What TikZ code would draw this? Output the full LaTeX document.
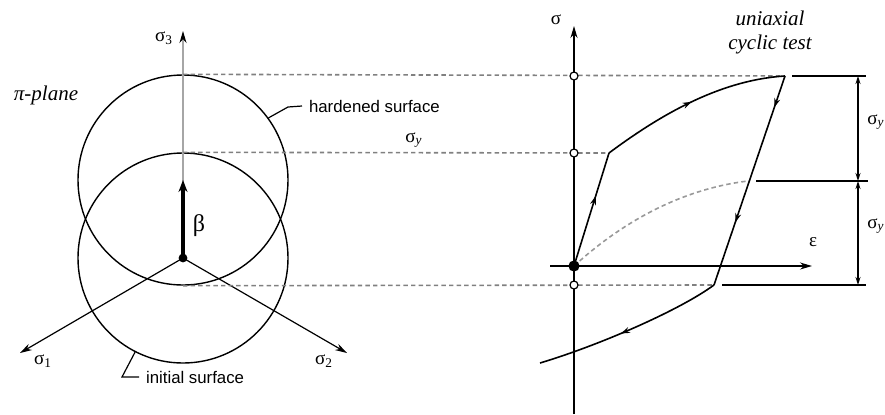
\documentclass[tikz,border=0pt]{standalone}
\usepackage{fontspec}
\setmainfont{Liberation Serif}
\newfontfamily\notefont{Liberation Sans}
\usetikzlibrary{arrows.meta,decorations.markings}

\tikzset{
  axis/.style={line width=0.6pt,-{Stealth[length=6pt,width=3.5pt]}},
  guide/.style={gray,line width=0.8pt,dash pattern=on 2.2pt off 1.6pt},
  curve/.style={line width=0.8pt},
  mid arrow/.style={postaction={decorate},decoration={markings,
      mark=at position #1 with {\arrow{Stealth[length=4.5pt,width=3pt]}}}},
  two arrows/.style 2 args={postaction={decorate},decoration={markings,
      mark=at position #1 with {\arrow{Stealth[length=4.5pt,width=3pt]}},
      mark=at position #2 with {\arrow{Stealth[length=4.5pt,width=3pt]}}}},
  surface/.style={circle,draw,line width=0.7pt,minimum size=105pt,inner sep=0pt},
  hole/.style={circle,draw,fill=white,line width=0.6pt,inner sep=0pt,minimum size=4pt},
  greek/.style={font=\fontsize{9.5}{10}\selectfont},
  note/.style={font=\notefont\fontsize{8.4}{10}\selectfont},
  title/.style={font=\itshape\fontsize{10.5}{12}\selectfont,align=center},
  dim/.style={line width=0.6pt,{Stealth[length=4pt,width=2.5pt]}-{Stealth[length=4pt,width=2.5pt]}}
}

\begin{document}
\begin{tikzpicture}[x=0.5pt,y=-0.5pt]
  \useasboundingbox (0,0) rectangle (885,414);

  % pi-plane
  \coordinate (O) at (183,258);
  \coordinate (H) at (183,180);
  \coordinate (s3) at (183,31);
  \coordinate (s1) at (20,353);
  \coordinate (s2) at (347,353);
  \node[surface] (init) at (O) {};
  \node[surface] (hard) at (H) {};
  \draw[axis,gray!70,-{Stealth[black,length=6pt,width=3.5pt]}] (O) -- (s3);
  \draw[axis] (O) -- (s1);
  \draw[axis] (O) -- (s2);
  \draw[line width=2pt,-{Stealth[length=6pt,width=4.5pt]}] (O) -- (H);
  \fill (O) circle[radius=2.2pt];

  \node[greek] (ls3) at (164,38) {σ\textsubscript{3}};
  \node[greek] (ls1) at (43,361) {σ\textsubscript{1}};
  \node[greek] (ls2) at (324,361) {σ\textsubscript{2}};
  \node[font=\fontsize{12}{14}\selectfont] (lbeta) at (199,226) {β};
  \node[title] (pplane) at (46,95) {π-plane};
  \node[greek] (lsy) at (414,140) {σ\textsubscript{\itshape y}};

  \node[note,anchor=west] (lhard) at (302,106) {hardened surface};
  \coordinate (kh) at (288,107);
  \draw[line width=0.6pt] (hard.36) -- (kh) -- (lhard.west);
  \node[note,anchor=west] (linit) at (139,377) {initial surface};
  \coordinate (ki) at (122,377);
  \draw[line width=0.6pt] (init.-117) -- (ki) -- (linit.west);

  % uniaxial cyclic test
  \coordinate (A) at (574,266);
  \coordinate (B) at (609,153);
  \coordinate (C) at (785,76);
  \coordinate (D) at (714,285);
  \coordinate (E) at (540,363);
  \coordinate (F) at (748,181);
  \coordinate (Yt) at (574,76);
  \coordinate (Yy) at (574,153);
  \coordinate (Yb) at (574,285);

  \draw[guide] (hard.north) -- (C);
  \draw[guide] (init.north) -- (B);
  \draw[guide] (hard.south) -- (D);

  \coordinate (ytop) at (574,26);
  \coordinate (ybot) at (574,414);
  \coordinate (xl) at (550,266);
  \coordinate (xr) at (812,266);
  \draw[axis] (ybot) -- (ytop);
  \draw[axis] (xl) -- (xr);
  \node[greek] (lsig) at (556,20) {σ};
  \node[greek] (leps) at (813,242) {ε};
  \node[title] (test) at (770,32) {uniaxial\\cyclic test};

  \draw[guide,gray!80] (A) .. controls (630,215) and (690,188) .. (F);
  \draw[curve,mid arrow=0.62] (A) -- (B);
  \draw[curve,mid arrow=0.5] (B) .. controls (660,115) and (720,80) .. (C);
  \draw[curve,two arrows={0.15}{0.7}] (C) -- (D);
  \draw[curve,mid arrow=0.55] (D) .. controls (680,310) and (600,345) .. (E);

  \fill (A) circle[radius=2.8pt];
  \foreach \p in {Yt,Yy,Yb}
    \node[hole] at (\p) {};

  % yield range
  \coordinate (t1) at (792,76);
  \coordinate (t2) at (866,76);
  \coordinate (m1) at (756,181);
  \coordinate (m2) at (868,181);
  \coordinate (b1) at (722,285);
  \coordinate (b2) at (866,285);
  \draw[line width=0.8pt] (t1) -- (t2);
  \draw[line width=0.8pt] (m1) -- (m2);
  \draw[line width=0.8pt] (b1) -- (b2);
  \coordinate (d1) at (858,76);
  \coordinate (d2) at (858,181);
  \coordinate (d3) at (858,285);
  \draw[dim] (d1) -- (d2);
  \draw[dim] (d2) -- (d3);
  \node[greek,anchor=west,inner sep=0pt] (lr1) at (867,122) {σ\textsubscript{\itshape y}};
  \node[greek,anchor=west,inner sep=0pt] (lr2) at (867,226) {σ\textsubscript{\itshape y}};
\end{tikzpicture}
\end{document}
